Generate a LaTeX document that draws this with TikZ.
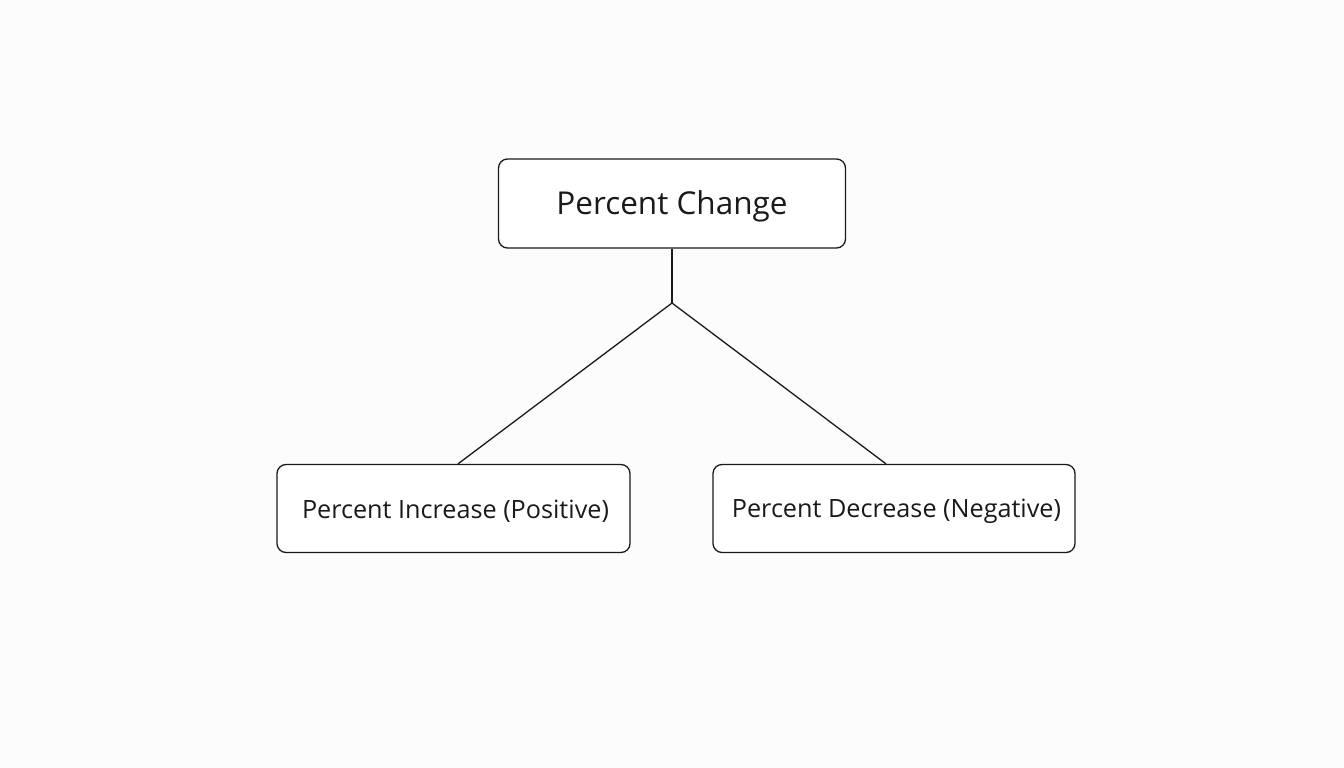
\documentclass[tikz,border=0pt]{standalone}
\usepackage{fontspec}
\setmainfont{Open Sans}
\definecolor{bg}{HTML}{FCFCFC}
\definecolor{ink}{HTML}{1A1A1A}
\begin{document}
\begin{tikzpicture}[x=1pt,y=-1pt,
  box/.style={draw=ink,line width=1.3pt,rounded corners=9pt,fill=white,inner sep=0pt},
  label/.style={text=ink,inner sep=0pt,anchor=center},
  link/.style={draw=ink,line width=1.3pt}]
\fill[bg] (0,0) rectangle (1344,768);
\useasboundingbox (0,0) rectangle (1344,768);
\node[box,minimum width=347pt,minimum height=89pt] (top) at (672,203.5) {};
\node[box,minimum width=353pt,minimum height=88pt] (left) at (453.5,508.5) {};
\node[box,minimum width=362pt,minimum height=88pt] (right) at (894,508.5) {};
\node[label,font=\fontsize{31.5}{36}\selectfont] (toptext) at ([yshift=-3pt]top.center) {Percent Change};
\node[label,font=\fontsize{25.2}{30}\selectfont] (lefttext) at ([xshift=2pt,yshift=-3pt]left.center) {Percent Increase (Positive)};
\node[label,font=\fontsize{25.2}{30}\selectfont] (righttext) at ([xshift=2.5pt,yshift=-3pt]right.center) {Percent Decrease (Negative)};
\coordinate (j) at (672,303);
\draw[link] (top.south) -- (j);
\draw[link] (j) -- (left.north -| 458,0);
\draw[link] (j) -- (right.north -| 886,0);
\end{tikzpicture}
\end{document}
